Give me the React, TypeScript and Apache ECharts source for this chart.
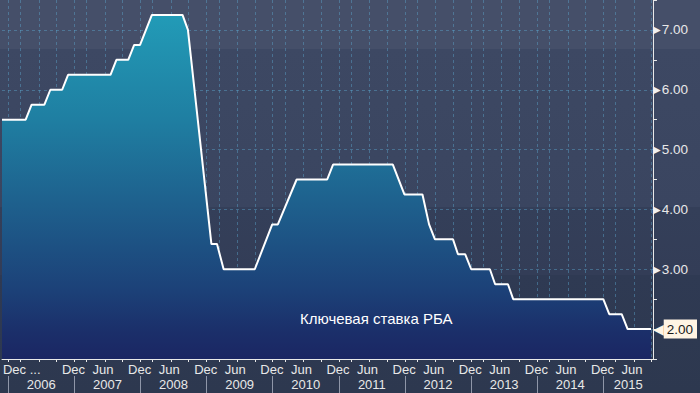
import { useEffect, useRef } from 'react';
import * as echarts from 'echarts';

// Vertices of the policy-rate line (fractional years, %)
const DATES = [
  2005.906, 2006.264, 2006.354, 2006.547, 2006.637, 2006.816, 2006.905, 2007.547,
  2007.636, 2007.815, 2007.905, 2007.994, 2008.173, 2008.636, 2008.718, 2009.073,
  2009.158, 2009.258, 2009.729, 2009.993, 2010.078, 2010.362, 2010.824, 2010.913,
  2011.817, 2011.992, 2012.265, 2012.365, 2012.454, 2012.727, 2012.802, 2012.912,
  2013.002, 2013.285, 2013.364, 2013.558, 2013.637, 2015.0, 2015.09, 2015.278,
  2015.368, 2015.721,
];
const RATES = [
  5.5, 5.5, 5.75, 5.75, 6.0, 6.0, 6.25, 6.25,
  6.5, 6.5, 6.75, 6.75, 7.25, 7.25, 7.0, 3.42,
  3.42, 3.0, 3.0, 3.75, 3.75, 4.5, 4.5, 4.75,
  4.75, 4.25, 4.25, 3.75, 3.5, 3.5, 3.25, 3.25,
  3.0, 3.0, 2.75, 2.75, 2.5, 2.5, 2.25, 2.25,
  2.0, 2.0,
];

const SERIES_NAME = 'Ключевая ставка РБА';
const YEARS = [2006, 2007, 2008, 2009, 2010, 2011, 2012, 2013, 2014, 2015];
const YEAR_LABEL_POS = [2006.5, 2007.5, 2008.5, 2009.5, 2010.5, 2011.5, 2012.5, 2013.5, 2014.5, 2015.377];
const TICK_OFFSETS = [0, 0.185, 0.4625, 0.73];
const MONTH_LABELS = ['Dec', 'Jun'];
const MONTH_LABEL_OFFSETS = [-0.012, 0.435];
const FIRST_LABEL_POS = 2006.204;
const FIRST_LABEL_TEXT = 'Dec ...';
const X_MIN = 2005.906;
const X_MAX = 2015.751;
const Y_MIN = 1.5;
const Y_MAX = 7.5;

const FONT = '"Liberation Sans", Arial, sans-serif';

export default function App() {
  const ref = useRef<HTMLDivElement>(null);

  useEffect(() => {
    if (!ref.current) return;
    const chart = echarts.init(ref.current, undefined, { renderer: 'svg', width: 700, height: 393 });

    const tickVals: number[] = [];
    YEARS.forEach((y) => TICK_OFFSETS.forEach((o) => {
      const v = y + o;
      if (v <= X_MAX) tickVals.push(v);
    }));

    const labelMap = new Map<string, string>();
    const labelVals: number[] = [FIRST_LABEL_POS];
    labelMap.set(FIRST_LABEL_POS.toFixed(4), FIRST_LABEL_TEXT);
    YEARS.slice(1).forEach((y) => {
      MONTH_LABELS.forEach((m, i) => {
        const v = y + MONTH_LABEL_OFFSETS[i];
        if (v <= X_MAX) {
          labelVals.push(v);
          labelMap.set(v.toFixed(4), m);
        }
      });
    });

    const lastRate = RATES[RATES.length - 1];
    const data = DATES.map((d, i) => [d, RATES[i]]);

    chart.setOption({
      animation: false,
      backgroundColor: 'transparent',
      textStyle: { fontFamily: FONT },
      grid: { left: 2, right: 38, top: -1, height: 360, containLabel: false },
      graphic: [
        {
          type: 'text',
          left: 300,
          top: 311,
          z: 10,
          style: { text: SERIES_NAME, fill: '#ffffff', fontSize: 15, fontFamily: FONT },
        },
      ],
      xAxis: [
        {
          type: 'value',
          min: X_MIN,
          max: X_MAX,
          position: 'bottom',
          axisLine: { show: true, lineStyle: { color: '#e9e9e9', width: 1 } },
          axisTick: { show: true, customValues: tickVals, length: 3, lineStyle: { color: '#e9e9e9' } },
          axisLabel: {
            show: true,
            customValues: labelVals,
            formatter: (v: number) => labelMap.get(Number(v).toFixed(4)) ?? '',
            color: '#e8e8e8',
            fontSize: 13,
            margin: 4,
            fontFamily: FONT,
          },
          splitLine: { show: true, lineStyle: { color: 'rgba(90,165,205,0.45)', type: [3, 3], width: 1 } },
        },
        {
          type: 'value',
          min: X_MIN,
          max: X_MAX,
          position: 'bottom',
          offset: 17,
          axisLine: { show: false },
          axisTick: { show: true, customValues: YEARS, length: 17, lineStyle: { color: '#8f96a8' } },
          axisLabel: {
            show: true,
            customValues: YEAR_LABEL_POS,
            formatter: (v: number) => String(Math.floor(v)),
            color: '#e8e8e8',
            fontSize: 13,
            margin: 2,
            fontFamily: FONT,
          },
          splitLine: { show: false },
        },
      ],
      yAxis: {
        type: 'value',
        position: 'right',
        min: Y_MIN,
        max: Y_MAX,
        interval: 0.5,
        axisLine: { show: true, lineStyle: { color: '#e9e9e9', width: 1 } },
        axisTick: { show: true, length: 4, lineStyle: { color: '#e9e9e9' } },
        axisLabel: {
          show: true,
          margin: 0,
          fontFamily: FONT,
          formatter: (v: number) => {
            if (Math.abs(v - Math.round(v)) > 1e-6) return '';
            const s = v.toFixed(2);
            if (Math.abs(v - lastRate) < 1e-6) return '{ar|◀}{hl|' + s + '}';
            return '{tri|▶}{v|' + s + '}';
          },
          rich: {
            tri: { fontSize: 10, color: '#f0f0f0', fontFamily: '"DejaVu Sans"', padding: [0, 1, 0, 0] },
            v: { fontSize: 13.5, color: '#e8e8e8', fontFamily: FONT },
            ar: { fontSize: 14, color: '#fff4e4', fontFamily: '"DejaVu Sans"' },
            hl: {
              fontSize: 13.5,
              color: '#1a1a1a',
              fontFamily: FONT,
              backgroundColor: '#fff4e4',
              padding: [3, 4, 2, 3],
            },
          },
        },
        splitLine: {
          show: true,
          lineStyle: { color: ['transparent', 'rgba(90,165,205,0.45)'], type: [3, 3], width: 1 },
        },
      },
      series: [
        {
          name: SERIES_NAME,
          type: 'line',
          data,
          xAxisIndex: 0,
          symbol: 'none',
          lineStyle: { color: '#ffffff', width: 2 },
          areaStyle: {
            opacity: 1,
            color: new echarts.graphic.LinearGradient(0, 0, 0, 1, [
              { offset: 0, color: '#229bb7' },
              { offset: 0.3, color: '#1f7fa2' },
              { offset: 0.55, color: '#1e608d' },
              { offset: 0.8, color: '#1c4178' },
              { offset: 0.92, color: '#1b2f6a' },
              { offset: 1, color: '#1b2663' },
            ]),
          },
          z: 2,
        },
      ],
    });

    return () => chart.dispose();
  }, []);

  return (
    <div
      ref={ref}
      style={{
        position: 'fixed',
        left: 0,
        top: 0,
        width: 700,
        height: 393,
        background:
          'linear-gradient(to bottom, #454f69 0px, #454f69 49px, #3d4863 49px, #3a4560 207px, #343f59 207px, #333d57 275px, #2f3a53 275px, #2d384f 393px)',
      }}
    />
  );
}
